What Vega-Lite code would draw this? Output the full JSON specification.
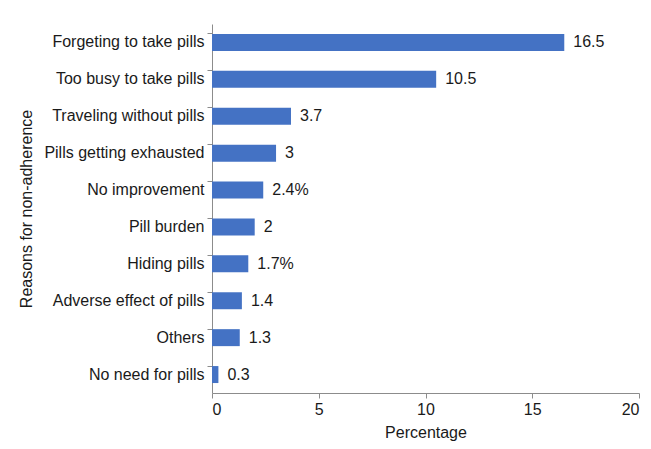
{
  "$schema": "https://vega.github.io/schema/vega-lite/v6.json",
  "autosize": "none",
  "width": 427,
  "height": 369,
  "padding": {"left": 212, "top": 24, "right": 12, "bottom": 56},
  "background": "white",
  "config": {
    "font": "Liberation Sans",
    "view": {"stroke": null},
    "axis": {
      "domainColor": "#8c8c8c",
      "tickColor": "#8c8c8c",
      "labelColor": "#1a1a1a",
      "titleColor": "#1a1a1a",
      "labelFontSize": 16,
      "titleFontSize": 16,
      "titleFontWeight": "normal",
      "labelFont": "Liberation Sans",
      "titleFont": "Liberation Sans",
      "grid": false
    }
  },
  "data": {
    "values": [
      {"reason": "Forgeting to take pills", "pct": 16.5, "label": "16.5"},
      {"reason": "Too busy to take pills", "pct": 10.5, "label": "10.5"},
      {"reason": "Traveling without pills", "pct": 3.7, "label": "3.7"},
      {"reason": "Pills getting exhausted", "pct": 3, "label": "3"},
      {"reason": "No improvement", "pct": 2.4, "label": "2.4%"},
      {"reason": "Pill burden", "pct": 2, "label": "2"},
      {"reason": "Hiding pills", "pct": 1.7, "label": "1.7%"},
      {"reason": "Adverse effect of pills", "pct": 1.4, "label": "1.4"},
      {"reason": "Others", "pct": 1.3, "label": "1.3"},
      {"reason": "No need for pills", "pct": 0.3, "label": "0.3"}
    ]
  },
  "encoding": {
    "y": {
      "field": "reason",
      "type": "nominal",
      "sort": null,
      "scale": {"paddingInner": 0.54, "paddingOuter": 0.27},
      "title": "Reasons for non-adherence",
      "axis": {"bandPosition": 0, "tickSize": 5, "labelPadding": 3, "titlePadding": 9}
    },
    "x": {
      "field": "pct",
      "type": "quantitative",
      "scale": {"domain": [0, 20], "nice": false},
      "title": "Percentage",
      "axis": {"values": [0, 5, 10, 15, 20], "tickSize": 5, "labelPadding": 3, "titlePadding": 7}
    }
  },
  "layer": [
    {"mark": {"type": "bar", "color": "#4472c4"}},
    {
      "mark": {"type": "text", "align": "left", "dx": 9, "fontSize": 16, "font": "Liberation Sans", "color": "#1a1a1a"},
      "encoding": {"text": {"field": "label"}}
    }
  ]
}
